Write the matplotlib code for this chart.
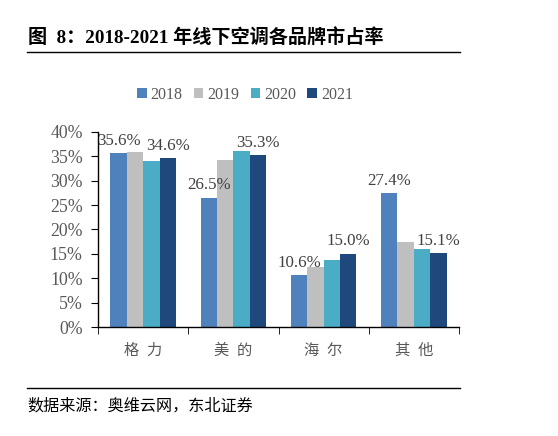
import matplotlib
matplotlib.use("Agg")
import matplotlib.pyplot as plt
from matplotlib.lines import Line2D
from matplotlib.patches import Patch
import numpy as np

categories = ["格力", "美的", "海尔", "其他"]
years = ["2018", "2019", "2020", "2021"]
v2018 = [35.6, 26.5, 10.6, 27.4]
v2019 = [35.8, 34.3, 12.4, 17.5]
v2020 = [34.1, 36.2, 13.8, 15.9]
v2021 = [34.6, 35.3, 15.0, 15.1]
yticks = [0, 5, 10, 15, 20, 25, 30, 35, 40]
colors = ["#4F81BD", "#BFBFBF", "#4BACC6", "#1F497D"]

FONT = ["Liberation Serif", "Noto Sans CJK SC", "DejaVu Sans"]
plt.rcParams["font.family"] = FONT

W, H = 558, 436
fig = plt.figure(figsize=(W / 100, H / 100), dpi=100)
ax = fig.add_axes([98 / W, 1 - 327 / H, (459 - 98) / W, (327 - 132) / H])

series = [v2018, v2019, v2020, v2021]
x = np.arange(len(categories))
bw = 0.182
for i, (vals, c) in enumerate(zip(series, colors)):
    pos = x + (i - 1.5) * bw
    ax.bar(pos, vals, width=bw, color=c, edgecolor="none", zorder=2)
    if i in (0, 3):
        for px, v in zip(pos, vals):
            ax.text(px, v + 0.9, f"{v:.1f}%", ha="center", va="bottom",
                    fontsize=12.2, color="#404040", family=FONT)

ax.set_xlim(-0.5, 3.5)
ax.set_ylim(0, 40)
ax.set_yticks(yticks)
ax.set_yticklabels([f"{t}%" for t in yticks], fontsize=12.8, color="#595959")
ax.set_xticks(x)
ax.set_xticklabels([c[0] + "  " + c[1] for c in categories], fontsize=11, color="#595959")
ax.set_xticks(np.arange(-0.5, 4.0, 1.0), minor=True)
ax.tick_params(axis="x", which="major", length=0, pad=12)
ax.tick_params(axis="x", which="minor", length=5, direction="out", color="black")
ax.tick_params(axis="y", length=5, direction="out", color="black", pad=6)
for s in ["top", "right"]:
    ax.spines[s].set_visible(False)
for s in ["left", "bottom"]:
    ax.spines[s].set_color("black")
    ax.spines[s].set_linewidth(1.0)

# legend
handles = [Patch(facecolor=c, edgecolor="none") for c in colors]
fig.legend(handles, years, loc="center", bbox_to_anchor=(245 / W, 1 - 95 / H),
           ncol=4, frameon=False, fontsize=11.5, handlelength=0.6, handleheight=0.6,
           handletextpad=0.25, columnspacing=0.7, labelcolor="#595959")

# title
fig.text(28 / W, 1 - 38 / H, "图  8：2018-2021 年线下空调各品牌市占率", fontsize=13.8,
         fontweight="bold", ha="left", va="center", family=FONT)
fig.add_artist(Line2D([27 / W, 460 / W], [1 - 52 / H, 1 - 52 / H], color="black", lw=1.0))
fig.add_artist(Line2D([27 / W, 460 / W], [1 - 388 / H, 1 - 388 / H], color="black", lw=1.0))
fig.text(27 / W, 1 - 406 / H, "数据来源：奥维云网，东北证券", fontsize=11.6,
         ha="left", va="center", family=FONT)

fig.savefig("out.png", dpi=100)
